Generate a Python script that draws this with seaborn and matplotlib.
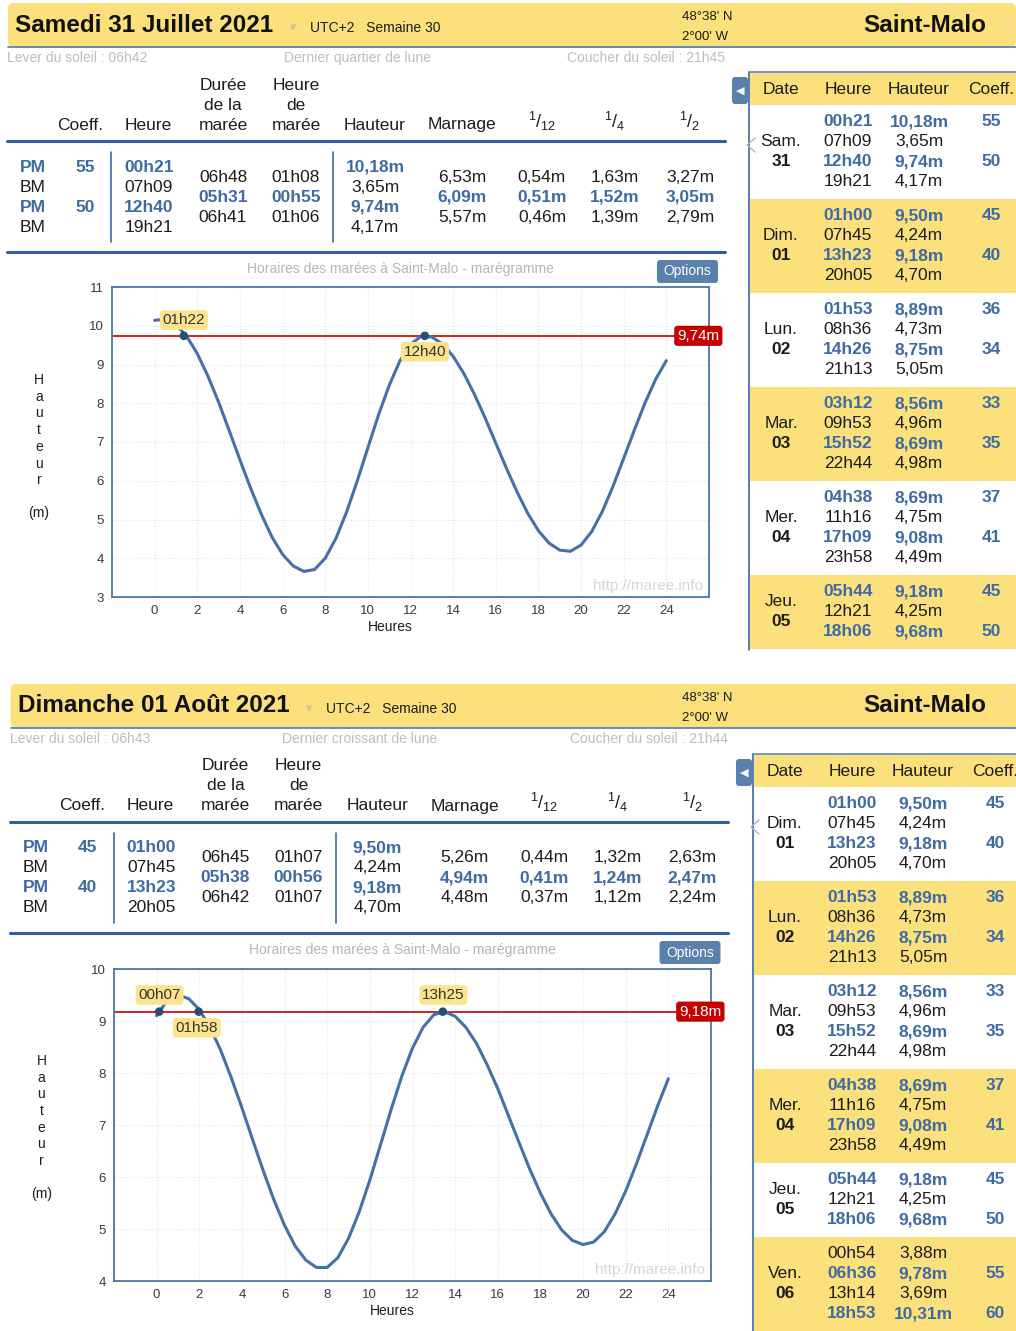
import numpy as np
import matplotlib
matplotlib.use('Agg')
import matplotlib.pyplot as plt
import seaborn as sns
from matplotlib.patches import Rectangle, FancyBboxPatch

sns.set_style('white')
plt.rcParams['font.family'] = ['Liberation Sans', 'DejaVu Sans']
plt.rcParams['mathtext.fontset'] = 'custom'
plt.rcParams['mathtext.rm'] = 'Liberation Sans'

BLEU = '#3E6AA6'
NOIR = '#1C1C1C'
JAUNE = '#FCE07C'
BOUTON = '#5A80AC'
COURBE = '#4471A6'

# ---- Données : journée du samedi 31 juillet ----
titre1 = 'Samedi 31 Juillet 2021'
lever1 = 'Lever du soleil : 06h42'
lune1 = 'Dernier quartier de lune'
coucher1 = 'Coucher du soleil : 21h45'
types1 = ['PM', 'BM', 'PM', 'BM']
coeffs1 = ['55', '', '50', '']
heures1 = ['00h21', '07h09', '12h40', '19h21']
durees1 = ['06h48', '05h31', '06h41']
heures_maree1 = ['01h08', '00h55', '01h06']
hauteurs1 = ['10,18m', '3,65m', '9,74m', '4,17m']
marnages1 = ['6,53m', '6,09m', '5,57m']
douzieme1 = ['0,54m', '0,51m', '0,46m']
quart1 = ['1,63m', '1,52m', '1,39m']
demi1 = ['3,27m', '3,05m', '2,79m']

# ---- Données : journée du dimanche 01 août ----
titre2 = 'Dimanche 01 Août 2021'
lever2 = 'Lever du soleil : 06h43'
lune2 = 'Dernier croissant de lune'
coucher2 = 'Coucher du soleil : 21h44'
types2 = ['PM', 'BM', 'PM', 'BM']
coeffs2 = ['45', '', '40', '']
heures2 = ['01h00', '07h45', '13h23', '20h05']
durees2 = ['06h45', '05h38', '06h42']
heures_maree2 = ['01h07', '00h56', '01h07']
hauteurs2 = ['9,50m', '4,24m', '9,18m', '4,70m']
marnages2 = ['5,26m', '4,94m', '4,48m']
douzieme2 = ['0,44m', '0,41m', '0,37m']
quart2 = ['1,32m', '1,24m', '1,12m']
demi2 = ['2,63m', '2,47m', '2,24m']

# ---- Marégrammes (hauteur toutes les 30 min) ----
heures_courbe = np.arange(0, 24.5, 0.5)
courbe1 = [10.14, 10.17, 10.03, 9.73, 9.28, 8.70, 8.03, 7.29, 6.54, 5.81, 5.14, 4.55,
           4.10, 3.80, 3.66, 3.71, 4.00, 4.51, 5.19, 5.99, 6.85, 7.70, 8.46, 9.09,
           9.52, 9.73, 9.71, 9.53, 9.21, 8.77, 8.23, 7.62, 6.97, 6.32, 5.71, 5.16,
           4.71, 4.39, 4.21, 4.18, 4.34, 4.69, 5.21, 5.86, 6.58, 7.31, 8.01, 8.62, 9.10]
courbe2 = [9.10, 9.40, 9.50, 9.43, 9.22, 8.88, 8.44, 7.91, 7.33, 6.72, 6.12, 5.56,
           5.07, 4.67, 4.40, 4.26, 4.26, 4.45, 4.82, 5.33, 5.94, 6.62, 7.30, 7.94,
           8.48, 8.88, 9.12, 9.18, 9.09, 8.88, 8.57, 8.16, 7.70, 7.18, 6.66, 6.15,
           5.69, 5.29, 4.98, 4.78, 4.70, 4.75, 4.95, 5.29, 5.73, 6.25, 6.81, 7.37, 7.89]
niveau1 = 9.74
niveau1_txt = '9,74m'
points1 = [1.37, 12.67]
etiquettes1 = ['01h22', '12h40']
etiq_pos1 = [(1.37, 10.15), (12.68, 9.33)]
niveau2 = 9.18
niveau2_txt = '9,18m'
points2 = [0.12, 1.97, 13.42]
etiquettes2 = ['00h07', '01h58', '13h25']
etiq_pos2 = [(0.14, 9.50), (1.88, 8.87), (13.45, 9.50)]

# ---- Tableau de la semaine ----
jours = ['Sam.', 'Dim.', 'Lun.', 'Mar.', 'Mer.', 'Jeu.', 'Ven.']
jours_num = ['31', '01', '02', '03', '04', '05', '06']
semaine_heures = [['00h21', '07h09', '12h40', '19h21'],
                  ['01h00', '07h45', '13h23', '20h05'],
                  ['01h53', '08h36', '14h26', '21h13'],
                  ['03h12', '09h53', '15h52', '22h44'],
                  ['04h38', '11h16', '17h09', '23h58'],
                  ['05h44', '12h21', '18h06'],
                  ['00h54', '06h36', '13h14', '18h53']]
semaine_hauteurs = [['10,18m', '3,65m', '9,74m', '4,17m'],
                    ['9,50m', '4,24m', '9,18m', '4,70m'],
                    ['8,89m', '4,73m', '8,75m', '5,05m'],
                    ['8,56m', '4,96m', '8,69m', '4,98m'],
                    ['8,69m', '4,75m', '9,08m', '4,49m'],
                    ['9,18m', '4,25m', '9,68m'],
                    ['3,88m', '9,78m', '3,69m', '10,31m']]
semaine_coeffs = [['55', '', '50', ''],
                  ['45', '', '40', ''],
                  ['36', '', '34', ''],
                  ['33', '', '35', ''],
                  ['37', '', '41', ''],
                  ['45', '', '50'],
                  ['', '55', '', '60']]
semaine_pm = [[1, 0, 1, 0], [1, 0, 1, 0], [1, 0, 1, 0], [1, 0, 1, 0],
              [1, 0, 1, 0], [1, 0, 1], [0, 1, 0, 1]]

W, H = 1016, 1331
fig = plt.figure(figsize=(W / 100, H / 100), dpi=100)
bg = fig.add_axes([0, 0, 1, 1])
bg.set_xlim(0, W)
bg.set_ylim(H, 0)
bg.axis('off')


def txt(x, y, s, size=12.5, color=NOIR, ha='center', bold=False, **kw):
    bg.text(x, y, s, size=size, color=color, ha=ha, va='center',
            fontweight='bold' if bold else 'normal', **kw)


def panneau(dy, dx, titre, tri_x, lever, lune, coucher, types, coeffs, heures,
            durees, heures_maree, hauteurs, marnages, d12, d4, d2, heures_y):
    # bandeau jaune
    bg.add_patch(FancyBboxPatch((8 + dx, 3 + dy), W - 8, 44, boxstyle='round,pad=0,rounding_size=6',
                                fc=JAUNE, ec='none'))
    bg.plot([8 + dx, W], [47 + dy, 47 + dy], color='#5A84BA', lw=1.3)
    txt(15 + dx, 25 + dy, titre, size=17.5, ha='left', bold=True, color='#111111')
    txt(tri_x, 28 + dy, '▾', size=9, color='#C9C2A6')
    txt(tri_x + 17, 28 + dy, 'UTC+2   Semaine 30', size=10, ha='left')
    txt(682, 17 + dy, "48°38' N", size=9.5, ha='left')
    txt(682, 37 + dy, "2°00' W", size=9.5, ha='left')
    txt(986, 25 + dy, 'Saint-Malo', size=17.5, ha='right', bold=True, color='#111111')
    txt(1006, 25 + dy, '☆', size=15, color='#E2DAB8')
    # soleil / lune
    txt(7 + dx, 58 + dy, lever, size=10, ha='left', color='#BDBDBD')
    txt(357 + dx, 58 + dy, lune, size=10, color='#BDBDBD')
    txt(725 + dx, 58 + dy, coucher, size=10, ha='right', color='#BDBDBD')
    # en-têtes
    for i, mot in enumerate(['Durée', 'de la', 'marée']):
        txt(223 + dx, 85 + 20 * i + dy, mot)
    for i, mot in enumerate(['Heure', 'de', 'marée']):
        txt(296 + dx, 85 + 20 * i + dy, mot)
    txt(80 + dx, 125 + dy, 'Coeff.')
    txt(148 + dx, 125 + dy, 'Heure')
    txt(375 + dx, 125 + dy, 'Hauteur')
    txt(462 + dx, 125 + dy, 'Marnage')
    txt(542 + dx, 121 + dy, r'$\mathregular{^{1}/_{12}}$', size=13)
    txt(615 + dx, 121 + dy, r'$\mathregular{^{1}/_{4}}$', size=13)
    txt(690 + dx, 121 + dy, r'$\mathregular{^{1}/_{2}}$', size=13)
    bg.plot([7 + dx, 725 + dx], [141 + dy, 141 + dy], color='#2F5F9E', lw=2.2)
    bg.plot([7 + dx, 725 + dx], [252 + dy, 252 + dy], color='#2F5F9E', lw=2.2)
    for xv in (111, 333):
        bg.plot([xv + dx, xv + dx], [152 + dy, 242 + dy], color='#3C69A3', lw=1.2)
    # lignes de données
    for i in range(4):
        y = 167 + 20 * i + dy
        pm = types[i] == 'PM'
        c = BLEU if pm else NOIR
        txt(20 + dx, y, types[i], ha='left', bold=pm, color=c)
        txt(85 + dx, y, coeffs[i], bold=True, color=BLEU)
        txt(149 + dx, y, heures[i], bold=pm, color=c)
        txt(375 + dx, y, hauteurs[i], bold=pm, color=c)
    for i in range(3):
        y = 177 + 20 * i + dy
        b = i == 1
        c = BLEU if b else NOIR
        for xv, col in ((223, durees), (296, heures_maree), (462, marnages),
                        (542, d12), (615, d4), (690, d2)):
            txt(xv + dx, y, col[i], bold=b, color=c)
    # titre du graphique et bouton
    txt(400 + dx, 269 + dy, 'Horaires des marées à Saint-Malo - marégramme', size=10, color='#B5B5B5')
    bg.add_patch(FancyBboxPatch((657 + dx, 260 + dy), 61, 23, boxstyle='round,pad=0,rounding_size=3',
                                fc=BOUTON, ec='none'))
    txt(687.5 + dx, 271.5 + dy, 'Options', size=10, color='white')
    # libellé vertical de l'axe des hauteurs
    for i, lettre in enumerate('Hauteur'):
        txt(39 + dx, 380 + 16.7 * i + dy, lettre, size=10)
    txt(39 + dx, 513 + dy, '(m)', size=10)
    txt(390 + dx, heures_y, 'Heures', size=10)


def maregramme(pos, ylim, courbe, niveau, niveau_txt, points, etiquettes, etiq_pos):
    l, t, r, b = pos
    ax = fig.add_axes([l / W, 1 - b / H, (r - l) / W, (b - t) / H])
    sns.lineplot(x=heures_courbe, y=courbe, ax=ax, color=COURBE, linewidth=2.2, zorder=3)
    ax.axhline(niveau, color='#CC1111', lw=1.3, zorder=2)
    sns.scatterplot(x=points, y=[niveau] * len(points), ax=ax, color='#2A4D78', s=38,
                    edgecolor='none', zorder=4)
    for s, (xe, ye) in zip(etiquettes, etiq_pos):
        ax.text(xe, ye, s, ha='center', va='center', size=11, color='#333333', zorder=5,
                bbox=dict(boxstyle='round,pad=0.18,rounding_size=0.25', fc='#FCE38C', ec='none'))
    ax.text(25.5, niveau, niveau_txt, ha='center', va='center', size=11, color='white', zorder=6,
            clip_on=False,
            bbox=dict(boxstyle='round,pad=0.2,rounding_size=0.2', fc='#C40000', ec='none'))
    ax.text(0.99, 0.012, 'http://maree.info', transform=ax.transAxes, ha='right', va='bottom',
            size=11, color='#D6D6D6')
    ax.set_xlim(-2, 26)
    ax.set_ylim(*ylim)
    ax.set_xticks(range(0, 25, 2))
    ax.set_yticks(range(ylim[0], ylim[1] + 1))
    ax.tick_params(length=0, labelsize=9.5, labelcolor='#3A3A3A', pad=6)
    ax.grid(True, color='#E6E6E6', lw=0.8, ls=':')
    for sp in ax.spines.values():
        sp.set_color('#4A74A8')
        sp.set_linewidth(1.3)
    ax.set_xlabel('')
    ax.set_ylabel('')


def tableau_semaine(dy, dx, debut, fin_y):
    x0 = 750 + dx
    bg.add_patch(Rectangle((x0, 73 + dy), W - x0, 32, fc=JAUNE, ec='none'))
    bg.plot([x0, W], [72 + dy, 72 + dy], color='#5A84BA', lw=1.2)
    bg.plot([x0 - 1, x0 - 1], [72 + dy, fin_y], color='#4A74A8', lw=1.3)
    bg.add_patch(FancyBboxPatch((732 + dx, 77 + dy), 16, 27, boxstyle='round,pad=0,rounding_size=3',
                                fc=BOUTON, ec='none'))
    txt(740 + dx, 90.5 + dy, '◀', size=8, color='white')
    txt(781 + dx, 90 + dy, 'Date')
    txt(848 + dx, 90 + dy, 'Heure')
    txt(919 + dx, 90 + dy, 'Hauteur')
    txt(991 + dx, 90 + dy, 'Coeff.')
    bg.plot([x0 + 5, x0 - 3, x0 + 5], [138 + dy, 145 + dy, 152 + dy], color='#A9B6C9', lw=1)
    top = 105 + dy
    for k in range(6):
        j = debut + k
        n = len(semaine_heures[j])
        hgt = 20 * n + 14
        if k % 2 == 1:
            bg.add_patch(Rectangle((x0, top), W - x0, hgt, fc=JAUNE, ec='none'))
        centre = top + hgt / 2
        txt(781 + dx, centre - 10, jours[j])
        txt(781 + dx, centre + 10, jours_num[j], bold=True)
        for i in range(n):
            y = top + 17 + 20 * i
            pm = semaine_pm[j][i] == 1
            c = BLEU if pm else NOIR
            txt(848 + dx, y, semaine_heures[j][i], bold=pm, color=c)
            txt(919 + dx, y, semaine_hauteurs[j][i], bold=pm, color=c)
            txt(991 + dx, y, semaine_coeffs[j][i], bold=True, color=BLEU)
        top += hgt


panneau(0, 0, titre1, 293, lever1, lune1, coucher1, types1, coeffs1, heures1, durees1,
        heures_maree1, hauteurs1, marnages1, douzieme1, quart1, demi1, 627)
maregramme((112, 287, 709, 597), (3, 11), courbe1, niveau1, niveau1_txt, points1,
           etiquettes1, etiq_pos1)
tableau_semaine(0, 0, 0, 650)

panneau(681, 2.5, titre2, 309, lever2, lune2, coucher2, types2, coeffs2, heures2, durees2,
        heures_maree2, hauteurs2, marnages2, douzieme2, quart2, demi2, 1311)
maregramme((114, 969, 711, 1281), (4, 10), courbe2, niveau2, niveau2_txt, points2,
           etiquettes2, etiq_pos2)
tableau_semaine(682, 4, 1, H)

fig.savefig('out.png', dpi=100)
